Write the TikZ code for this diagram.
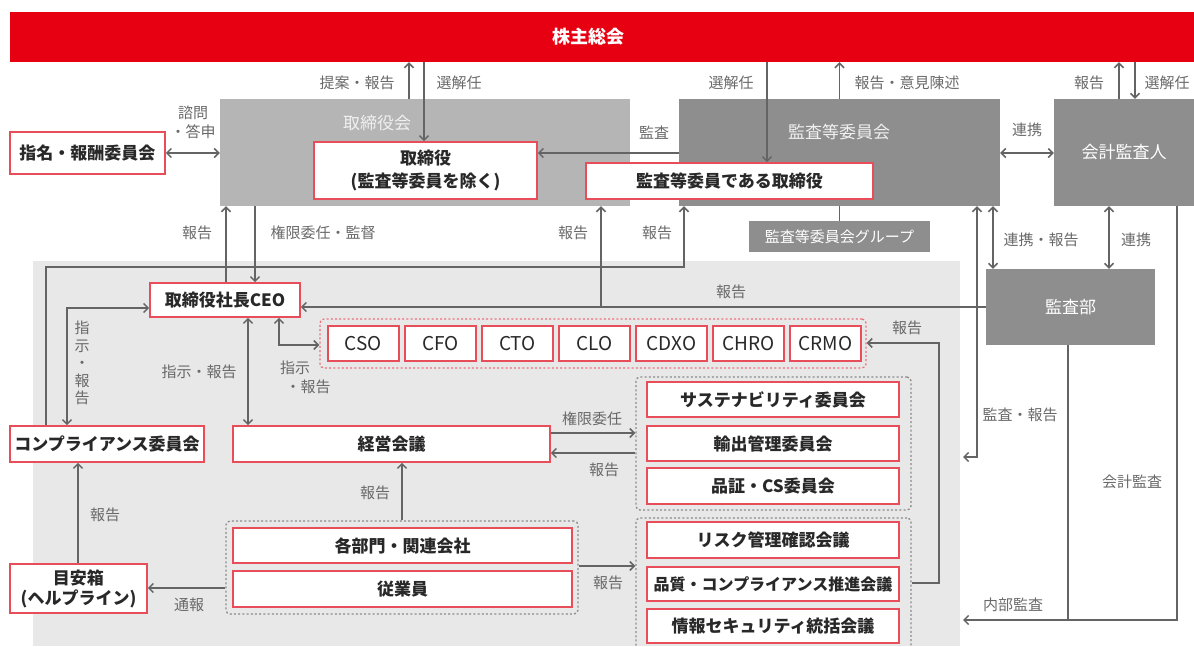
\documentclass[tikz,border=0pt]{standalone}
\usepackage{fontspec}
\setmainfont{Noto Sans CJK JP}
\usetikzlibrary{arrows.meta}
\definecolor{kred}{RGB}{230,0,18}
\definecolor{bred}{RGB}{232,78,90}
\definecolor{lgray}{RGB}{181,181,181}
\definecolor{dgray}{RGB}{142,142,142}
\definecolor{bggray}{RGB}{232,232,232}
\definecolor{lncol}{RGB}{100,100,100}
\definecolor{lbcol}{RGB}{105,105,105}
\definecolor{txcol}{RGB}{40,40,40}
\begin{document}
\begin{tikzpicture}[x=1pt,y=-1pt,
  >={Straight Barb[length=4.5pt,width=9pt]},
  wbox/.style={draw=bred,line width=1.6pt,fill=white,inner sep=0pt,text=txcol,
    font=\bfseries\fontsize{17}{23}\selectfont,align=center},
  gbox/.style={fill=dgray,inner sep=0pt,text=white,font=\fontsize{17}{21}\selectfont},
  gtext/.style={text=white!94!black,inner sep=0pt,font=\fontsize{17}{21}\selectfont},
  lbl/.style={text=lbcol,font=\fontsize{15}{19}\selectfont,inner sep=0pt,align=center},
  ln/.style={draw=lncol,line width=1.5pt},
  grp/.style={draw=lncol!75,line width=1.3pt,dash pattern=on 2pt off 2.2pt,rounded corners=4pt,inner sep=0pt},
  rgrp/.style={draw=bred!80,line width=1.3pt,dash pattern=on 2pt off 2.2pt,rounded corners=4pt,inner sep=0pt},
]
\clip (0,0) rectangle (1194,646);
\useasboundingbox (0,0) rectangle (1194,646);
% background region
\fill[bggray] (33,261) rectangle (960,646);

% top bar
\node[fill=kred,minimum width=1184pt,minimum height=50pt,inner sep=0pt] (kabu) at (602,37) {};
\node[text=white,font=\bfseries\fontsize{18}{20}\selectfont,inner sep=0pt] (kabut) at (588,37) {株主総会};

% gray boards
\node[fill=lgray,minimum width=410pt,minimum height=107pt,inner sep=0pt] (tkai) at (425,152.5) {};
\node[gtext] (tkait) at (377,123) {取締役会};
\node[fill=dgray,minimum width=321pt,minimum height=107pt,inner sep=0pt] (kkai) at (839.5,152.5) {};
\node[gtext] (kkait) at (839,132) {監査等委員会};
\node[gbox,minimum width=140pt,minimum height=107pt] (kaikei) at (1124,152.5) {会計監査人};
\node[gbox,minimum width=181pt,minimum height=31pt,font=\fontsize{15}{18}\selectfont] (kgrp) at (839.5,236.5) {監査等委員会グループ};
\node[gbox,minimum width=169pt,minimum height=76pt] (kansa) at (1070.5,307) {監査部};

% white boxes
\node[wbox,minimum width=155pt,minimum height=42pt] (shimei) at (87.5,153) {指名・報酬委員会};
\node[wbox,minimum width=223pt,minimum height=57pt] (tori) at (425.5,170.5) {取締役\\(監査等委員を除く)};
\node[wbox,minimum width=287pt,minimum height=36pt] (ktori) at (729.5,181) {監査等委員である取締役};
\node[wbox,minimum width=150pt,minimum height=34pt] (ceo) at (225,300) {取締役社長CEO};

\node[rgrp,minimum width=546pt,minimum height=49pt] (cxo) at (593,343.5) {};
\foreach \nm/\cx in {CSO/363.5,CFO/440.5,CTO/517.5,CLO/594.5,CDXO/671.5,CHRO/748.5,CRMO/825.5}
  \node[wbox,font=\fontsize{19}{22}\selectfont,minimum width=71pt,minimum height=35pt] (\nm) at (\cx,343.5) {\nm};

\node[wbox,minimum width=194pt,minimum height=36pt] (compl) at (107,444) {コンプライアンス委員会};
\node[wbox,minimum width=317pt,minimum height=36pt] (keiei) at (391.5,444) {経営会議};

\node[grp,minimum width=275pt,minimum height=133pt] (g1) at (773.5,443.5) {};
\node[wbox,minimum width=252pt,minimum height=35pt] (sus) at (773,399.5) {サステナビリティ委員会};
\node[wbox,minimum width=252pt,minimum height=35pt] (yushutsu) at (773,443.5) {輸出管理委員会};
\node[wbox,minimum width=252pt,minimum height=36pt] (hinsho) at (773,486) {品証・CS委員会};

\node[grp,minimum width=275pt,minimum height=140pt] (g2) at (773.5,588) {};
\node[wbox,minimum width=252pt,minimum height=36pt] (risk) at (773,540) {リスク管理確認会議};
\node[wbox,minimum width=252pt,minimum height=34pt,font=\bfseries\fontsize{16}{20}\selectfont] (hinshitsu) at (773,584) {品質・コンプライアンス推進会議};
\node[wbox,minimum width=252pt,minimum height=34pt] (joho) at (773,626) {情報セキュリティ統括会議};

\node[grp,minimum width=352pt,minimum height=93pt] (g3) at (402,567.5) {};
\node[wbox,minimum width=339pt,minimum height=35pt] (bumon) at (402.5,545.5) {各部門・関連会社};
\node[wbox,minimum width=339pt,minimum height=36pt] (jugyoin) at (402.5,589) {従業員};
\node[wbox,minimum width=137pt,minimum height=49pt,font=\bfseries\fontsize{17}{20}\selectfont] (meyasu) at (78.5,588.5) {目安箱\\(ヘルプライン)};

% free ends / junctions
\coordinate (j1) at (601,307);
\coordinate (ka) at (963,457);
\coordinate (ia) at (963,620);

% connectors
\draw[ln,->] (tkai.north -| 409,0) -- (kabu.south -| 409,0);
\draw[ln,->] (kabu.south -| 424,0) -- (tori.north -| 424,0);
\draw[ln,->] (kabu.south -| 767,0) -- (ktori.north -| 767,0);
\draw[ln,->] (kkai.north) -- (kabu.south -| kkai.north);
\draw[ln,->] (kaikei.north -| 1119,0) -- (kabu.south -| 1119,0);
\draw[ln,->] (kabu.south -| 1135,0) -- (kaikei.north -| 1135,0);
\draw[ln,<->] (shimei.east) -- (tkai.west |- shimei.east);
\draw[ln,->] (kkai.west |- 0,153) -- (tori.east |- 0,153);
\draw[ln,<->] (kkai.east |- 0,153) -- (kaikei.west |- 0,153);
\draw[ln] (kkai.south) -- (kgrp.north);
\draw[ln,->] (ceo.north -| 226,0) -- (tkai.south -| 226,0);
\draw[ln,->] (tkai.south -| 255,0) -- (ceo.north -| 255,0);
\draw[ln,->] (kansa.west |- j1) -- (ceo.east |- j1);
\draw[ln,->] (j1) -- (tkai.south -| j1);
\draw[ln,->] (compl.north -| 46,0) -- (46,267) -- (684,267) -- (kkai.south -| 684,0);
\draw[ln,<->] (ceo.west |- 0,308) -- (67,308) -- (compl.north -| 67,0);
\draw[ln,<->] (ceo.south -| 248,0) -- (keiei.north -| 248,0);
\draw[ln,<->] (ceo.south -| 279,0) -- (279,345) -- (cxo.west |- 0,345);
\draw[ln,->] (keiei.east |- 0,433) -- (g1.west |- 0,433);
\draw[ln,->] (g1.west |- 0,453) -- (keiei.east |- 0,453);
\draw[ln,->] (g3.north -| 402,0) -- (keiei.south -| 402,0);
\draw[ln,->] (g3.east |- 0,566) -- (g2.west |- 0,566);
\draw[ln,->] (g3.west |- 0,588) -- (meyasu.east |- 0,588);
\draw[ln,->] (meyasu.north -| 78,0) -- (compl.south -| 78,0);
\draw[ln,->] (g2.east |- 0,583) -- (939,583) -- (939,343) -- (cxo.east |- 0,343);
\draw[ln,<->] (kkai.south -| 993,0) -- (kansa.north -| 993,0);
\draw[ln,<->] (kkai.south -| 977,0) -- (977,457) -- (ka);
\draw[ln,<->] (kaikei.south -| 1109,0) -- (kansa.north -| 1109,0);
\draw[ln] (kaikei.south -| 1177,0) -- (1177,620) -- (1068,620);
\draw[ln,->] (kansa.south -| 1068,0) -- (1068,620) -- (ia);

% labels
\node[lbl] at (357,83) {提案・報告};
\node[lbl] at (459,83) {選解任};
\node[lbl] at (731,83) {選解任};
\node[lbl] at (907,83) {報告・意見陳述};
\node[lbl] at (1089,83) {報告};
\node[lbl] at (1167,83) {選解任};
\node[lbl] at (193,122) {諮問\\・答申};
\node[lbl] at (654,133) {監査};
\node[lbl] at (1027,130) {連携};
\node[lbl] at (197,233) {報告};
\node[lbl] at (323,233) {権限委任・監督};
\node[lbl] at (573,233) {報告};
\node[lbl] at (657,233) {報告};
\node[lbl] at (1041,240) {連携・報告};
\node[lbl] at (1136,240) {連携};
\node[lbl] at (731,292) {報告};
\node[lbl] at (907,328) {報告};
\node[lbl,font=\fontsize{15}{17.5}\selectfont] at (82,363) {指\\示\\・\\報\\告};
\node[lbl] at (199,372) {指示・報告};
\node[lbl] at (295,368) {指示};
\node[lbl] at (308,387) {・報告};
\node[lbl] at (592,419) {権限委任};
\node[lbl] at (604,470) {報告};
\node[lbl] at (1020,415) {監査・報告};
\node[lbl] at (1132,482) {会計監査};
\node[lbl] at (1013,605) {内部監査};
\node[lbl] at (375,493) {報告};
\node[lbl] at (105,515) {報告};
\node[lbl] at (189,605) {通報};
\node[lbl] at (608,583) {報告};
\end{tikzpicture}
\end{document}
